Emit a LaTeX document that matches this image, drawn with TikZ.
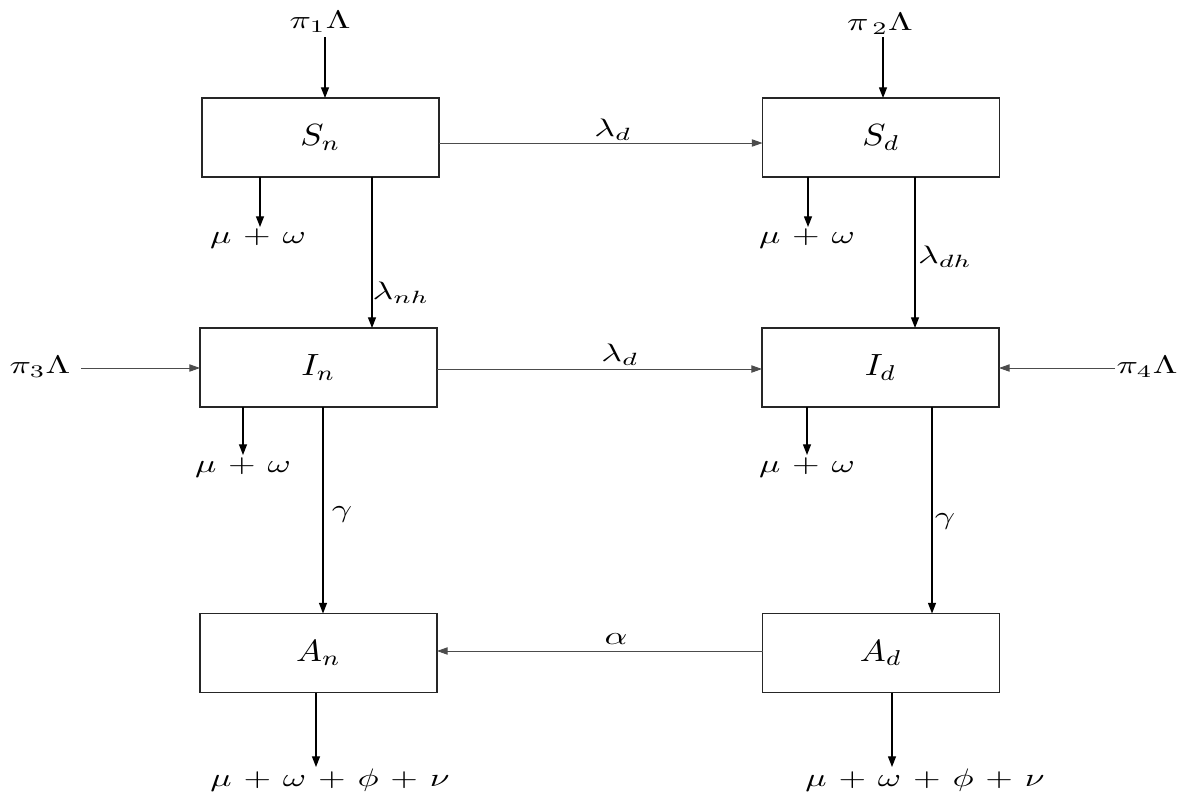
\documentclass[tikz,border=0pt]{standalone}
\usepackage{graphicx}
\usetikzlibrary{arrows.meta}

% math labels, enlarged and widened
\newcommand{\wlab}[1]{\scalebox{2.66}[1.9]{$\medmuskip=6mu #1$}}
\newcommand{\wbox}[1]{\scalebox{2.6}[2.3]{$#1$}}

\tikzset{
  x=0.75pt, y=-0.75pt,
  comp/.style={draw=black!85, line width=0.8pt, minimum width=177.75pt,
    minimum height=59.25pt, inner sep=0pt, outer sep=0pt},
  flow/.style={line width=0.9pt, draw=black,
    -{Triangle[length=8pt,width=6pt]}},
  hflow/.style={line width=0.7pt, draw=black!70,
    -{Triangle[length=8pt,width=5.5pt]}},
  lab/.style={inner sep=0pt},
}

\begin{document}
\begin{tikzpicture}
\useasboundingbox (0,0) rectangle (1180,793);

% compartments
\node[comp] (Sn) at (320.5,137.5) {\wbox{S_n}};
\node[comp] (Sd) at (881,137.5)   {\wbox{S_d}};
\node[comp] (In) at (318.5,367.5) {\wbox{I_n}};
\node[comp] (Id) at (880.5,367.5) {\wbox{I_d}};
\node[comp] (An) at (318.5,653)   {\wbox{A_n}};
\node[comp] (Ad) at (881,653)     {\wbox{A_d}};

% recruitment labels
\node[lab] (p1) at (320,22)   {\wlab{\pi_1\Lambda}};
\node[lab] (p2) at (880,24)   {\wlab{\pi_{\,2}\Lambda}};
\node[lab] (p3) at (40,367)   {\wlab{\pi_3\Lambda}};
\node[lab] (p4) at (1147,367) {\wlab{\pi_4\Lambda}};

% removal labels
\node[lab] (m1) at (258,239) {\wlab{\mu+\omega}};
\node[lab] (m2) at (807,239) {\wlab{\mu+\omega}};
\node[lab] (m3) at (243,468) {\wlab{\mu+\omega}};
\node[lab] (m4) at (807,468) {\wlab{\mu+\omega}};
\node[lab] (m5) at (330,780) {\wlab{\mu+\omega+\phi+\nu}};
\node[lab] (m6) at (925,780) {\wlab{\mu+\omega+\phi+\nu}};

% transition labels
\node[lab] (l1) at (613,130) {\wlab{\lambda_d}};
\node[lab] (l2) at (620,355) {\wlab{\lambda_d}};
\node[lab] (l3) at (401,293) {\wlab{\lambda_{nh}}};
\node[lab] (l4) at (945,257) {\wlab{\lambda_{dh}}};
\node[lab] (g1) at (342,514) {\wlab{\gamma}};
\node[lab] (g2) at (945,521) {\wlab{\gamma}};
\node[lab] (al) at (616,639) {\wlab{\alpha}};

% free ends and connector lines
\coordinate (p1e) at (325,37);
\coordinate (p2e) at (883,37);
\coordinate (p3e) at (81,368);
\coordinate (p4e) at (1115,368);
\coordinate (m1e) at (260,227);
\coordinate (m2e) at (808,227);
\coordinate (m3e) at (243,455);
\coordinate (m4e) at (807,455);
\coordinate (m5e) at (316,767);
\coordinate (m6e) at (892,767);
\coordinate (vSn) at (372,0);
\coordinate (vSd) at (915,0);
\coordinate (vIn) at (323,0);
\coordinate (vId) at (932,0);
\coordinate (hS) at (0,143);
\coordinate (hI) at (0,369);
\coordinate (hA) at (0,651);

% inflows
\draw[flow] (p1e) -- (Sn.north -| p1e);
\draw[flow] (p2e) -- (Sd.north -| p2e);
\draw[hflow] (p3e) -- (In.west |- p3e);
\draw[hflow] (p4e) -- (Id.east |- p4e);

% outflows
\draw[flow] (Sn.south -| m1e) -- (m1e);
\draw[flow] (Sd.south -| m2e) -- (m2e);
\draw[flow] (In.south -| m3e) -- (m3e);
\draw[flow] (Id.south -| m4e) -- (m4e);
\draw[flow] (An.south -| m5e) -- (m5e);
\draw[flow] (Ad.south -| m6e) -- (m6e);

% transitions
\draw[hflow] (Sn.east |- hS) -- (Sd.west |- hS);
\draw[hflow] (In.east |- hI) -- (Id.west |- hI);
\draw[hflow] (Ad.west |- hA) -- (An.east |- hA);
\draw[flow] (Sn.south -| vSn) -- (In.north -| vSn);
\draw[flow] (Sd.south -| vSd) -- (Id.north -| vSd);
\draw[flow] (In.south -| vIn) -- (An.north -| vIn);
\draw[flow] (Id.south -| vId) -- (Ad.north -| vId);
\end{tikzpicture}
\end{document}
